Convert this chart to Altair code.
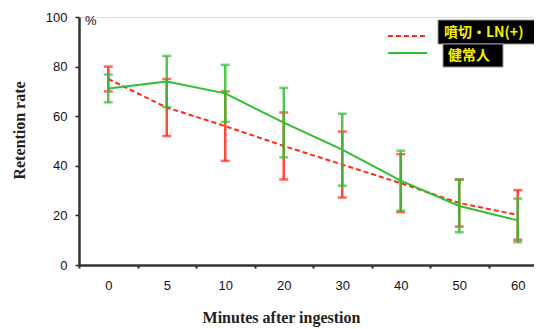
import altair as alt
import pandas as pd

minutes = ["0", "5", "10", "20", "30", "40", "50", "60"]
series_names = ["噴切・LN(+)", "健常人"]
red_mean = [75, 63.5, 56, 48, 40.5, 33, 25, 20.2]
red_sd = [5, 11.5, 14, 13.5, 13.3, 11.7, 9.5, 10]
green_mean = [71.2, 74, 69.2, 57.4, 46.5, 34, 23.8, 18]
green_sd = [5.6, 10.3, 11.5, 14, 14.5, 12.1, 10.6, 8.8]

rows = []
for name, means, sds in [(series_names[0], red_mean, red_sd), (series_names[1], green_mean, green_sd)]:
    for m, v, s in zip(minutes, means, sds):
        rows.append({"t": m, "series": name, "mean": v, "lo": v - s, "hi": v + s})
df = pd.DataFrame(rows)

colors = {series_names[0]: "#ff2a1a", series_names[1]: "#2fbf2f"}

xenc = alt.X("t:O", sort=minutes,
             scale=alt.Scale(paddingInner=0, paddingOuter=0, range=[0, 468]),
             axis=alt.Axis(title="Minutes after ingestion", labelAngle=0, tickBand="extent",
                           tickSize=3, labelPadding=11, labelFontSize=13, labelFont="Liberation Sans",
                           labelColor="#111", domainColor="#333", domainWidth=2.5, tickColor="#222",
                           tickWidth=2, titleFont="Liberation Serif", titleFontWeight="bold",
                           titleFontSize=16, titleX=202, titleY=44, titleAnchor="middle",
                           titleColor="#222"))
yscale = alt.Scale(domain=[0, 100], nice=False)
yaxis = alt.Axis(title="Retention rate", values=[0, 20, 40, 60, 80, 100], grid=False, tickSize=4,
                 labelPadding=8, labelFontSize=13, labelFont="Liberation Sans", labelColor="#111",
                 domainColor="#333", domainWidth=2.5, tickColor="#222", tickWidth=1.5,
                 titleFont="Liberation Serif", titleFontWeight="bold", titleFontSize=16,
                 titleX=-52, titleY=113, titleColor="#222")

layers = []
for name in series_names:
    sub = df[df.series == name]
    c = colors[name]
    base = alt.Chart(sub)
    rule = base.mark_rule(color=c, strokeWidth=2.5, opacity=0.85).encode(
        x=xenc, y=alt.Y("lo:Q", scale=yscale, axis=yaxis), y2="hi:Q")
    cap_hi = base.mark_tick(color=c, thickness=2.5, size=9).encode(x=xenc, y=alt.Y("hi:Q", scale=yscale))
    cap_lo = base.mark_tick(color=c, thickness=2.5, size=9).encode(x=xenc, y=alt.Y("lo:Q", scale=yscale))
    if name == series_names[0]:
        line = base.mark_line(color=c, strokeWidth=2, strokeDash=[5, 3]).encode(
            x=xenc, y=alt.Y("mean:Q", scale=yscale))
    else:
        line = base.mark_line(color=c, strokeWidth=2).encode(x=xenc, y=alt.Y("mean:Q", scale=yscale))
    layers += [rule, cap_hi, cap_lo, line]

# Legend (manual, pixel positions relative to plot area)
leg = pd.DataFrame({"series": series_names})
ox, oy = 79, 17  # plot origin on page
leg_red_line = alt.Chart(leg.iloc[[0]]).mark_rule(color=colors[series_names[0]], strokeWidth=2,
                                                   strokeDash=[5, 3]).encode(
    x=alt.value(388 - ox), x2=alt.value(427 - ox), y=alt.value(36 - oy))
leg_green_line = alt.Chart(leg.iloc[[1]]).mark_rule(color=colors[series_names[1]], strokeWidth=2).encode(
    x=alt.value(388 - ox), x2=alt.value(427 - ox), y=alt.value(53 - oy))
box1 = alt.Chart(leg.iloc[[0]]).mark_rect(color="black", stroke="#999", strokeWidth=1).encode(
    x=alt.value(438 - ox), x2=alt.value(537 - ox), y=alt.value(20 - oy), y2=alt.value(44 - oy))
box2 = alt.Chart(leg.iloc[[1]]).mark_rect(color="black", stroke="#999", strokeWidth=1).encode(
    x=alt.value(443 - ox), x2=alt.value(503 - ox), y=alt.value(44 - oy), y2=alt.value(67 - oy))
txt1 = alt.Chart(leg.iloc[[0]]).mark_text(color="#f5f000", font="Noto Sans CJK JP", fontWeight="bold",
                                          fontSize=14, align="left", baseline="middle").encode(
    x=alt.value(444 - ox), y=alt.value(33 - oy), text="series:N")
txt2 = alt.Chart(leg.iloc[[1]]).mark_text(color="#f5f000", font="Noto Sans CJK JP", fontWeight="bold",
                                          fontSize=14, align="left", baseline="middle").encode(
    x=alt.value(448 - ox), y=alt.value(56 - oy), text="series:N")
pct = alt.Chart(leg.iloc[[0]]).mark_text(text="%", font="Liberation Sans", fontSize=13, color="#111",
                                         align="left", baseline="middle").encode(
    x=alt.value(6), y=alt.value(4))

chart = alt.layer(*layers, leg_red_line, leg_green_line, box1, box2, txt1, txt2, pct).properties(
    width=455, height=248,
    autosize=alt.AutoSizeParams(type="none"),
    padding={"left": 71, "top": 9, "right": 0, "bottom": 63},
).configure_view(stroke=None).configure(background="white")

chart.save("out.html", embed_options={"renderer": "svg", "actions": False})
